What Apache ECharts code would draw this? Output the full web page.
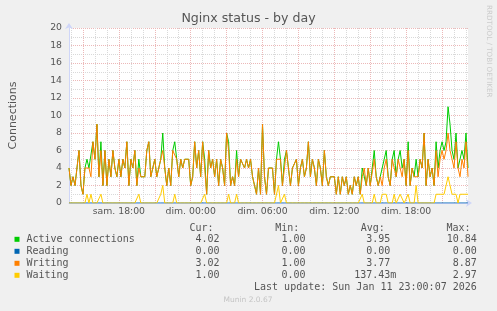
<!DOCTYPE html>
<html><head><meta charset="utf-8">
<script src="https://cdn.jsdelivr.net/npm/echarts@6/dist/echarts.min.js"></script>
<style>html,body{margin:0;padding:0;background:#f0f0f0;}#c{width:497px;height:311px;}</style>
</head><body><div id="c"></div>
<script>
// time axis: minutes since Saturday 00:00, one sample every 10 minutes
const startMinute = 830;
const stepMinutes = 10;

const activeConnections = [
  4,2,3,2,4,6,2,1,4,5,4,4,7,5,9,3,7,2,6,2,
  5,3,6,4,3,5,3,5,4,7,2,5,4,6,2,5,3,3,3,6,
  7,3,3,5,3,4,5,8,4,2,4,2,6,7,5,3,5,4,5,5,
  5,2,3,7,4,6,3,7,5,1,6,4,5,3,5,2,5,4,2,8,
  7,2,3,2,6,3,5,5,4,5,4,5,3,2,1,4,1,9,3,1,
  4,4,4,1,5,7,5,2,5,6,4,2,4,4,5,2,4,5,3,4,
  7,3,5,4,2,5,4,2,6,3,2,3,3,3,1,3,1,3,2,3,
  1,2,1,3,2,3,1,4,4,2,4,2,2,6,3,2,3,3,5,6,
  3,2,5,6,3,5,6,4,5,2,7,2,4,3,5,3,5,4,8,2,
  5,3,4,2,7,4,6,7,6,7,11,9,6,5,8,4,4,6,5,8,
  4
];
const reading = [
  0,0,0,0,0,0,0,0,0,0,0,0,0,0,0,0,0,0,0,0,
  0,0,0,0,0,0,0,0,0,0,0,0,0,0,0,0,0,0,0,0,
  0,0,0,0,0,0,0,0,0,0,0,0,0,0,0,0,0,0,0,0,
  0,0,0,0,0,0,0,0,0,0,0,0,0,0,0,0,0,0,0,0,
  0,0,0,0,0,0,0,0,0,0,0,0,0,0,0,0,0,0,0,0,
  0,0,0,0,0,0,0,0,0,0,0,0,0,0,0,0,0,0,0,0,
  0,0,0,0,0,0,0,0,0,0,0,0,0,0,0,0,0,0,0,0,
  0,0,0,0,0,0,0,0,0,0,0,0,0,0,0,0,0,0,0,0,
  0,0,0,0,0,0,0,0,0,0,0,0,0,0,0,0,0,0,0,0,
  0,0,0,0,0,0,0,0,0,0,0,0,0,0,0,0,0,0,0,0,
  0
];
const writing = [
  4,2,3,2,4,6,2,1,4,4,4,3,7,5,9,3,6,2,6,2,
  5,3,6,4,3,5,3,5,4,7,2,5,4,6,2,4,3,3,3,6,
  7,3,3,5,3,4,4,6,4,2,4,2,6,6,5,3,5,4,5,5,
  5,2,3,7,4,6,3,7,4,1,6,4,5,3,5,2,5,4,2,8,
  6,2,3,2,5,3,5,5,4,5,4,5,3,2,1,4,1,9,3,1,
  4,4,4,1,5,5,5,2,4,6,4,2,4,4,5,2,4,5,3,4,
  7,3,5,4,2,5,4,2,6,3,2,3,3,3,1,3,1,3,2,3,
  1,2,1,3,2,3,1,3,4,2,4,2,2,5,3,2,3,2,4,5,
  3,2,5,5,3,5,5,3,5,2,6,2,4,3,3,3,5,4,8,2,
  5,3,4,2,6,3,5,6,5,6,8,6,5,4,7,4,3,5,4,7,
  3
];
const waiting = [
  0,0,0,0,0,0,0,0,0,1,0,1,0,0,0,0,1,0,0,0,
  0,0,0,0,0,0,0,0,0,0,0,0,0,0,0,1,0,0,0,0,
  0,0,0,0,0,0,1,2,0,0,0,0,0,1,0,0,0,0,0,0,
  0,0,0,0,0,0,0,0,1,0,0,0,0,0,0,0,0,0,0,0,
  1,0,0,0,1,0,0,0,0,0,0,0,0,0,0,0,0,0,0,0,
  0,0,0,0,0,2,0,0,1,0,0,0,0,0,0,0,0,0,0,0,
  0,0,0,0,0,0,0,0,0,0,0,0,0,0,0,0,0,0,0,0,
  0,0,0,0,0,0,0,1,0,0,0,0,0,1,0,0,0,1,1,1,
  0,0,0,1,0,0,1,1,0,0,1,0,0,0,2,0,0,0,0,0,
  0,0,0,0,1,1,1,1,1,1,3,3,1,1,1,0,1,1,1,1,
  1
];

const seriesNames = ['Active connections', 'Reading', 'Writing', 'Waiting'];
const seriesColors = ['#00cc00', '#0066b3', '#ff8000', '#ffcc00'];
const curValues = ['4.02', '0.00', '3.02', '1.00'];
const minValues = ['1.00', '0.00', '1.00', '0.00'];
const avgValues = ['3.95', '0.00', '3.77', '137.43m'];
const maxValues = ['10.84', '0.00', '8.87', '2.97'];
const statHeaders = ['Cur:', 'Min:', 'Avg:', 'Max:'];

const xTickMinutes = [1080, 1440, 1800, 2160, 2520];
const xTickLabels = ['sam. 18:00', 'dim. 00:00', 'dim. 06:00', 'dim. 12:00', 'dim. 18:00'];
const yTickValues = [0, 2, 4, 6, 8, 10, 12, 14, 16, 18, 20];

const categories = activeConnections.map((_, i) => String(startMinute + i * stepMinutes));
const seriesData = [activeConnections, reading, writing, waiting];

const FONT = 'DejaVu Sans';
const MONO = 'DejaVu Sans Mono';
const TXT = '#555';
const MAJOR = '#ecb8b8';
const MINOR = '#d9d9d9';
const AXIS = '#cfd6f8';

// legend statistics table (text)
const graphics = [];
const rowY = [239.3, 251.3, 263.3, 275.5];
const headRight = [213.5, 299.3, 384.8, 470.5];
const valRight = [225.5, 311.5, 396.3, 482.8];
statHeaders.forEach((h, c) => graphics.push({type:'text', x: headRight[c], y: 228.3,
  style:{text:h, font:'10px "'+MONO+'"', fill:TXT, align:'right', verticalAlign:'middle'}}));
[curValues, minValues, avgValues, maxValues].forEach((col, c) => {
  col.forEach((v, r) => {
    const s = /[a-zA-Z]$/.test(v) ? v : v + ' ';
    graphics.push({type:'text', x: valRight[c], y: rowY[r],
      style:{text:s, font:'10px "'+MONO+'"', fill:TXT, align:'right', verticalAlign:'middle'}});
  });
});
graphics.push({type:'text', x: 482.8, y: 287.3,
  style:{text:'Last update: Sun Jan 11 23:00:07 2026 ', font:'10px "'+MONO+'"', fill:TXT, align:'right', verticalAlign:'middle'}});
graphics.push({type:'text', x: 248, y: 300.5,
  style:{text:'Munin 2.0.67', font:'7.5px "'+FONT+'"', fill:'#c4c4c4', align:'center', verticalAlign:'middle'}});
graphics.push({type:'text', x: 488.5, y: 5, rotation: -Math.PI/2,
  style:{text:'RRDTOOL / TOBI OETIKER', font:'7.2px "'+FONT+'"', fill:'#cccccc', align:'left', verticalAlign:'middle'}});

const chart = echarts.init(document.getElementById('c'), null, {renderer:'canvas'});
chart.setOption({
  animation: false,
  backgroundColor: '#f0f0f0',
  title: {
    text: 'Nginx status - by day', left: 'center', top: 12, padding: 0,
    textStyle: {fontFamily: FONT, fontSize: 12.6, fontWeight: 'normal', color: TXT}
  },
  legend: {
    orient: 'vertical', left: 14.5, top: 233.3, padding: 0, itemGap: 0,
    itemWidth: 5, itemHeight: 5, icon: 'rect', selectedMode: false,
    textStyle: {fontFamily: MONO, fontSize: 10, color: TXT, lineHeight: 12, padding: [0,0,0,2]},
    data: seriesNames
  },
  grid: {left: 67, top: 28, width: 401, height: 175, show: true, backgroundColor: '#ffffff', borderWidth: 0, containLabel: false},
  xAxis: {
    type: 'category', data: categories, boundaryGap: false,
    axisLine: {show: true, symbol: ['none','arrow'], symbolSize: [6,6], symbolOffset: [0,4], lineStyle: {color: AXIS, width: 1}},
    axisTick: {show: false},
    axisLabel: {
      interval: (idx, val) => xTickMinutes.includes(Number(val)),
      formatter: (val) => { const k = xTickMinutes.indexOf(Number(val)); return k >= 0 ? xTickLabels[k] : ''; },
      fontFamily: FONT, fontSize: 9.3, color: TXT, margin: 4
    },
    splitLine: {
      show: true,
      interval: (idx, val) => Number(val) % 60 === 0,
      lineStyle: {color: [MINOR, MAJOR, MINOR], type: [1,1], width: 1}
    }
  },
  yAxis: {
    type: 'value', min: 0, max: 20, interval: 1,
    name: 'Connections', nameLocation: 'middle', nameGap: 50,
    nameTextStyle: {fontFamily: FONT, fontSize: 11, color: TXT},
    axisLine: {show: true, symbol: ['none','arrow'], symbolSize: [6,6], symbolOffset: [0,5], lineStyle: {color: AXIS, width: 1}},
    axisTick: {show: false},
    axisLabel: {
      formatter: (v) => yTickValues.includes(v) ? String(v) : '',
      fontFamily: FONT, fontSize: 9.3, color: TXT, margin: 7
    },
    splitLine: {show: true, lineStyle: {color: [MAJOR, MINOR], type: [1,1], width: 1}}
  },
  graphic: graphics,
  series: seriesNames.map((n, k) => ({
    name: n, type: 'line', data: seriesData[k],
    showSymbol: false, symbol: 'none', sampling: null,
    color: seriesColors[k],
    lineStyle: {color: seriesColors[k], width: 1},
    itemStyle: {color: seriesColors[k]},
    emphasis: {disabled: true}
  }))
});
</script></body></html>
